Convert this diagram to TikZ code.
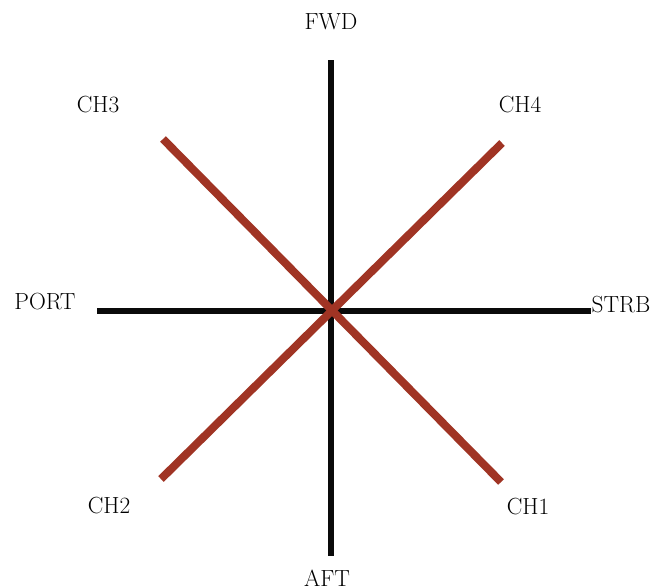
\documentclass[tikz,border=0pt]{standalone}
\usepackage{fontspec}
\definecolor{chred}{RGB}{160,52,36}
\definecolor{axisblack}{RGB}{10,10,10}
\begin{document}
\begin{tikzpicture}[x=0.75pt,y=-0.75pt,
  axis/.style={draw=axisblack,line width=4.5pt},
  chline/.style={draw=chred,line width=6pt},
  lbl/.style={font=\fontsize{17.5}{19}\selectfont,text=black,inner sep=0pt}]
\useasboundingbox (0,0) rectangle (656,586);
\fill[white] (0,0) rectangle (656,586);
% end points
\coordinate (fwdend) at (331,60);
\coordinate (aftend) at (331,556);
\coordinate (portend) at (97,311);
\coordinate (strbend) at (591,311);
\coordinate (ch3end) at (163,139);
\coordinate (ch1end) at (501,482);
\coordinate (ch4end) at (502,143);
\coordinate (ch2end) at (161,479);
% labels
\node[lbl] (fwd) at (331,22) {FWD};
\node[lbl] (aft) at (327,578) {AFT};
\node[lbl] (port) at (45,302) {PORT};
\node[lbl] (strb) at (621,305) {STRB};
\node[lbl] (ch3) at (98,105) {CH3};
\node[lbl] (ch4) at (520,105) {CH4};
\node[lbl] (ch2) at (109,506) {CH2};
\node[lbl] (ch1) at (528,507) {CH1};
% axes
\draw[axis] (fwdend) -- (aftend);
\draw[axis] (portend) -- (strbend);
% channel lines
\draw[chline] (ch3end) -- (ch1end);
\draw[chline] (ch4end) -- (ch2end);
\end{tikzpicture}
\end{document}
